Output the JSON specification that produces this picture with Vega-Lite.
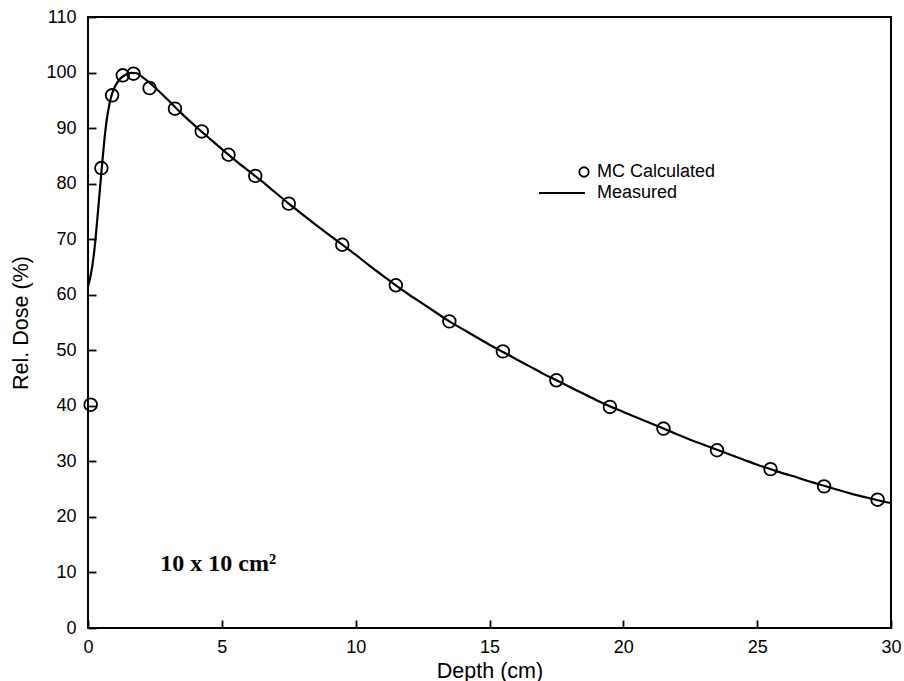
{
  "$schema": "https://vega.github.io/schema/vega-lite/v6.json",
  "width": 803,
  "height": 611,
  "autosize": {"type": "none"},
  "padding": {"left": 88, "top": 17, "right": 13, "bottom": 53},
  "background": "white",
  "config": {
    "view": {"stroke": "black", "strokeWidth": 2},
    "axis": {
      "domain": false, "ticks": true, "tickColor": "black", "tickWidth": 1.8, "tickOpacity": 1,
      "labelFont": "Liberation Sans", "labelFontSize": 18, "labelColor": "black",
      "titleFont": "Liberation Sans", "titleFontSize": 21.5, "titleFontWeight": "normal", "titleColor": "black",
      "grid": false, "labelOverlap": false, "labelFlush": false, "zindex": 2
    }
  },
  "datasets": {
    "mc": [
      {"depth": 0.1, "dose": 40.2, "series": "MC Calculated"},
      {"depth": 0.5, "dose": 82.8, "series": "MC Calculated"},
      {"depth": 0.9, "dose": 95.9, "series": "MC Calculated"},
      {"depth": 1.3, "dose": 99.5, "series": "MC Calculated"},
      {"depth": 1.7, "dose": 99.8, "series": "MC Calculated"},
      {"depth": 2.3, "dose": 97.2, "series": "MC Calculated"},
      {"depth": 3.25, "dose": 93.5, "series": "MC Calculated"},
      {"depth": 4.25, "dose": 89.4, "series": "MC Calculated"},
      {"depth": 5.25, "dose": 85.2, "series": "MC Calculated"},
      {"depth": 6.25, "dose": 81.4, "series": "MC Calculated"},
      {"depth": 7.5, "dose": 76.4, "series": "MC Calculated"},
      {"depth": 9.5, "dose": 69.0, "series": "MC Calculated"},
      {"depth": 11.5, "dose": 61.7, "series": "MC Calculated"},
      {"depth": 13.5, "dose": 55.2, "series": "MC Calculated"},
      {"depth": 15.5, "dose": 49.8, "series": "MC Calculated"},
      {"depth": 17.5, "dose": 44.6, "series": "MC Calculated"},
      {"depth": 19.5, "dose": 39.8, "series": "MC Calculated"},
      {"depth": 21.5, "dose": 35.9, "series": "MC Calculated"},
      {"depth": 23.5, "dose": 32.0, "series": "MC Calculated"},
      {"depth": 25.5, "dose": 28.6, "series": "MC Calculated"},
      {"depth": 27.5, "dose": 25.5, "series": "MC Calculated"},
      {"depth": 29.5, "dose": 23.1, "series": "MC Calculated"}
    ],
    "meas": [
      {"depth": 0.0, "dose": 61.5, "series": "Measured"},
      {"depth": 0.1, "dose": 63.5, "series": "Measured"},
      {"depth": 0.2, "dose": 66.5, "series": "Measured"},
      {"depth": 0.3, "dose": 71.0, "series": "Measured"},
      {"depth": 0.4, "dose": 76.5, "series": "Measured"},
      {"depth": 0.5, "dose": 82.0, "series": "Measured"},
      {"depth": 0.6, "dose": 87.3, "series": "Measured"},
      {"depth": 0.7, "dose": 91.5, "series": "Measured"},
      {"depth": 0.8, "dose": 94.3, "series": "Measured"},
      {"depth": 0.9, "dose": 96.2, "series": "Measured"},
      {"depth": 1.0, "dose": 97.4, "series": "Measured"},
      {"depth": 1.2, "dose": 98.9, "series": "Measured"},
      {"depth": 1.4, "dose": 99.6, "series": "Measured"},
      {"depth": 1.6, "dose": 99.95, "series": "Measured"},
      {"depth": 1.8, "dose": 99.9, "series": "Measured"},
      {"depth": 2.0, "dose": 99.3, "series": "Measured"},
      {"depth": 2.5, "dose": 97.3, "series": "Measured"},
      {"depth": 3.0, "dose": 95.0, "series": "Measured"},
      {"depth": 3.5, "dose": 92.6, "series": "Measured"},
      {"depth": 4.0, "dose": 90.4, "series": "Measured"},
      {"depth": 4.5, "dose": 88.3, "series": "Measured"},
      {"depth": 5.0, "dose": 86.2, "series": "Measured"},
      {"depth": 5.5, "dose": 84.2, "series": "Measured"},
      {"depth": 6.0, "dose": 82.3, "series": "Measured"},
      {"depth": 6.5, "dose": 80.4, "series": "Measured"},
      {"depth": 7.0, "dose": 78.4, "series": "Measured"},
      {"depth": 7.5, "dose": 76.4, "series": "Measured"},
      {"depth": 8.0, "dose": 74.5, "series": "Measured"},
      {"depth": 8.5, "dose": 72.6, "series": "Measured"},
      {"depth": 9.0, "dose": 70.8, "series": "Measured"},
      {"depth": 9.5, "dose": 69.0, "series": "Measured"},
      {"depth": 10.0, "dose": 67.2, "series": "Measured"},
      {"depth": 10.5, "dose": 65.3, "series": "Measured"},
      {"depth": 11.0, "dose": 63.5, "series": "Measured"},
      {"depth": 11.5, "dose": 61.7, "series": "Measured"},
      {"depth": 12.0, "dose": 60.0, "series": "Measured"},
      {"depth": 12.5, "dose": 58.4, "series": "Measured"},
      {"depth": 13.0, "dose": 56.8, "series": "Measured"},
      {"depth": 13.5, "dose": 55.2, "series": "Measured"},
      {"depth": 14.0, "dose": 53.8, "series": "Measured"},
      {"depth": 14.5, "dose": 52.4, "series": "Measured"},
      {"depth": 15.0, "dose": 51.0, "series": "Measured"},
      {"depth": 15.5, "dose": 49.7, "series": "Measured"},
      {"depth": 16.0, "dose": 48.4, "series": "Measured"},
      {"depth": 16.5, "dose": 47.1, "series": "Measured"},
      {"depth": 17.0, "dose": 45.8, "series": "Measured"},
      {"depth": 17.5, "dose": 44.6, "series": "Measured"},
      {"depth": 18.0, "dose": 43.4, "series": "Measured"},
      {"depth": 18.5, "dose": 42.2, "series": "Measured"},
      {"depth": 19.0, "dose": 41.0, "series": "Measured"},
      {"depth": 19.5, "dose": 39.9, "series": "Measured"},
      {"depth": 20.0, "dose": 38.9, "series": "Measured"},
      {"depth": 20.5, "dose": 37.9, "series": "Measured"},
      {"depth": 21.0, "dose": 36.9, "series": "Measured"},
      {"depth": 21.5, "dose": 35.9, "series": "Measured"},
      {"depth": 22.0, "dose": 34.9, "series": "Measured"},
      {"depth": 22.5, "dose": 33.9, "series": "Measured"},
      {"depth": 23.0, "dose": 33.0, "series": "Measured"},
      {"depth": 23.5, "dose": 32.1, "series": "Measured"},
      {"depth": 24.0, "dose": 31.2, "series": "Measured"},
      {"depth": 24.5, "dose": 30.3, "series": "Measured"},
      {"depth": 25.0, "dose": 29.4, "series": "Measured"},
      {"depth": 25.5, "dose": 28.6, "series": "Measured"},
      {"depth": 26.0, "dose": 27.8, "series": "Measured"},
      {"depth": 26.5, "dose": 27.1, "series": "Measured"},
      {"depth": 27.0, "dose": 26.3, "series": "Measured"},
      {"depth": 27.5, "dose": 25.6, "series": "Measured"},
      {"depth": 28.0, "dose": 24.9, "series": "Measured"},
      {"depth": 28.5, "dose": 24.2, "series": "Measured"},
      {"depth": 29.0, "dose": 23.6, "series": "Measured"},
      {"depth": 29.5, "dose": 23.0, "series": "Measured"},
      {"depth": 30.0, "dose": 22.5, "series": "Measured"}
    ],
    "xmajor": [{"depth": 0}, {"depth": 5}, {"depth": 10}, {"depth": 15}, {"depth": 20}, {"depth": 25}, {"depth": 30}],
    "xminor": [{"depth": 1}, {"depth": 2}, {"depth": 3}, {"depth": 4}, {"depth": 6}, {"depth": 7}, {"depth": 8}, {"depth": 9}, {"depth": 11}, {"depth": 12}, {"depth": 13}, {"depth": 14}, {"depth": 16}, {"depth": 17}, {"depth": 18}, {"depth": 19}, {"depth": 21}, {"depth": 22}, {"depth": 23}, {"depth": 24}, {"depth": 26}, {"depth": 27}, {"depth": 28}, {"depth": 29}],
    "ymajor": [{"dose": 0}, {"dose": 10}, {"dose": 20}, {"dose": 30}, {"dose": 40}, {"dose": 50}, {"dose": 60}, {"dose": 70}, {"dose": 80}, {"dose": 90}, {"dose": 100}, {"dose": 110}],
    "yminor": [{"dose": 1}, {"dose": 2}, {"dose": 3}, {"dose": 4}, {"dose": 5}, {"dose": 6}, {"dose": 7}, {"dose": 8}, {"dose": 9}, {"dose": 11}, {"dose": 12}, {"dose": 13}, {"dose": 14}, {"dose": 15}, {"dose": 16}, {"dose": 17}, {"dose": 18}, {"dose": 19}, {"dose": 21}, {"dose": 22}, {"dose": 23}, {"dose": 24}, {"dose": 25}, {"dose": 26}, {"dose": 27}, {"dose": 28}, {"dose": 29}, {"dose": 31}, {"dose": 32}, {"dose": 33}, {"dose": 34}, {"dose": 35}, {"dose": 36}, {"dose": 37}, {"dose": 38}, {"dose": 39}, {"dose": 41}, {"dose": 42}, {"dose": 43}, {"dose": 44}, {"dose": 45}, {"dose": 46}, {"dose": 47}, {"dose": 48}, {"dose": 49}, {"dose": 51}, {"dose": 52}, {"dose": 53}, {"dose": 54}, {"dose": 55}, {"dose": 56}, {"dose": 57}, {"dose": 58}, {"dose": 59}, {"dose": 61}, {"dose": 62}, {"dose": 63}, {"dose": 64}, {"dose": 65}, {"dose": 66}, {"dose": 67}, {"dose": 68}, {"dose": 69}, {"dose": 71}, {"dose": 72}, {"dose": 73}, {"dose": 74}, {"dose": 75}, {"dose": 76}, {"dose": 77}, {"dose": 78}, {"dose": 79}, {"dose": 81}, {"dose": 82}, {"dose": 83}, {"dose": 84}, {"dose": 85}, {"dose": 86}, {"dose": 87}, {"dose": 88}, {"dose": 89}, {"dose": 91}, {"dose": 92}, {"dose": 93}, {"dose": 94}, {"dose": 95}, {"dose": 96}, {"dose": 97}, {"dose": 98}, {"dose": 99}, {"dose": 101}, {"dose": 102}, {"dose": 103}, {"dose": 104}, {"dose": 105}, {"dose": 106}, {"dose": 107}, {"dose": 108}, {"dose": 109}]
  },
  "layer": [
    {
      "data": {"name": "meas"},
      "mark": {"type": "line", "strokeWidth": 2.2, "interpolate": "monotone", "clip": true},
      "encoding": {
        "x": {
          "field": "depth", "type": "quantitative",
          "scale": {"domain": [0, 30], "nice": false},
          "axis": {
            "orient": "bottom", "title": "Depth (cm)",
            "values": [0, 5, 10, 15, 20, 25, 30],
            "offset": -8, "tickSize": 8, "labelPadding": 10, "titlePadding": 4
          }
        },
        "y": {
          "field": "dose", "type": "quantitative",
          "scale": {"domain": [0, 110], "nice": false},
          "axis": {
            "orient": "left", "title": "Rel. Dose (%)",
            "values": [0, 10, 20, 30, 40, 50, 60, 70, 80, 90, 100, 110],
            "offset": -8, "tickSize": 8, "labelPadding": 12, "titlePadding": 13
          }
        },
        "color": {
          "field": "series", "type": "nominal",
          "scale": {"domain": ["MC Calculated", "Measured"], "range": ["black", "black"]},
          "legend": {
            "title": null, "orient": "none", "legendX": 487, "legendY": 146,
            "padding": 0, "symbolSize": 90, "symbolStrokeWidth": 1.8,
            "labelFont": "Liberation Sans", "labelFontSize": 18, "labelColor": "black",
            "labelOffset": 4, "rowPadding": 3,
            "encode": {
              "symbols": {
                "update": {
                  "shape": {"signal": "datum.value === 'Measured' ? 'M-9.5,0H0.2' : 'circle'"},
                  "size": {"value": 90},
                  "fill": {"value": "transparent"},
                  "stroke": {"value": "black"},
                  "strokeWidth": {"signal": "datum.value === 'Measured' ? 2.2 : 1.8"}
                }
              }
            }
          }
        }
      }
    },
    {
      "data": {"name": "mc"},
      "mark": {"type": "point", "filled": false, "size": 160, "strokeWidth": 1.8, "opacity": 1},
      "encoding": {
        "x": {"field": "depth", "type": "quantitative", "axis": null},
        "y": {"field": "dose", "type": "quantitative", "axis": null},
        "color": {"field": "series", "type": "nominal"}
      }
    },
    {
      "data": {"values": [{"label": "10 x 10 cm²"}]},
      "mark": {"type": "text", "font": "Liberation Serif", "fontSize": 24, "fontWeight": "bold", "align": "left", "baseline": "middle", "color": "black"},
      "encoding": {
        "x": {"datum": 2.7, "type": "quantitative", "axis": null},
        "y": {"datum": 11.5, "type": "quantitative", "axis": null},
        "text": {"field": "label"}
      }
    },
    {
      "data": {"name": "xmajor"},
      "mark": {"type": "rule", "color": "black", "strokeWidth": 1.8},
      "encoding": {
        "x": {"field": "depth", "type": "quantitative", "axis": null},
        "y": {"datum": 0, "type": "quantitative", "axis": null},
        "y2": {"datum": 0},
        "y2Offset": {"value": -8}
      }
    },
    {
      "data": {"name": "xmajor"},
      "mark": {"type": "rule", "color": "black", "strokeWidth": 1.8},
      "encoding": {
        "x": {"field": "depth", "type": "quantitative", "axis": null},
        "y": {"datum": 110, "type": "quantitative", "axis": null},
        "y2": {"datum": 110},
        "y2Offset": {"value": 8}
      }
    },
    {
      "data": {"name": "xminor"},
      "mark": {"type": "rule", "color": "black", "strokeWidth": 1.6},
      "encoding": {
        "x": {"field": "depth", "type": "quantitative", "axis": null},
        "y": {"datum": 0, "type": "quantitative", "axis": null},
        "y2": {"datum": 0},
        "y2Offset": {"value": -4}
      }
    },
    {
      "data": {"name": "xminor"},
      "mark": {"type": "rule", "color": "black", "strokeWidth": 1.6},
      "encoding": {
        "x": {"field": "depth", "type": "quantitative", "axis": null},
        "y": {"datum": 110, "type": "quantitative", "axis": null},
        "y2": {"datum": 110},
        "y2Offset": {"value": 4}
      }
    },
    {
      "data": {"name": "ymajor"},
      "mark": {"type": "rule", "color": "black", "strokeWidth": 1.8},
      "encoding": {
        "y": {"field": "dose", "type": "quantitative", "axis": null},
        "x": {"datum": 0, "type": "quantitative", "axis": null},
        "x2": {"datum": 0},
        "x2Offset": {"value": 8}
      }
    },
    {
      "data": {"name": "ymajor"},
      "mark": {"type": "rule", "color": "black", "strokeWidth": 1.8},
      "encoding": {
        "y": {"field": "dose", "type": "quantitative", "axis": null},
        "x": {"datum": 30, "type": "quantitative", "axis": null},
        "x2": {"datum": 30},
        "x2Offset": {"value": -8}
      }
    },
    {
      "data": {"name": "yminor"},
      "mark": {"type": "rule", "color": "black", "strokeWidth": 1.6},
      "encoding": {
        "y": {"field": "dose", "type": "quantitative", "axis": null},
        "x": {"datum": 0, "type": "quantitative", "axis": null},
        "x2": {"datum": 0},
        "x2Offset": {"value": 4}
      }
    },
    {
      "data": {"name": "yminor"},
      "mark": {"type": "rule", "color": "black", "strokeWidth": 1.6},
      "encoding": {
        "y": {"field": "dose", "type": "quantitative", "axis": null},
        "x": {"datum": 30, "type": "quantitative", "axis": null},
        "x2": {"datum": 30},
        "x2Offset": {"value": -4}
      }
    }
  ],
  "resolve": {"axis": {"x": "independent", "y": "independent"}}
}
